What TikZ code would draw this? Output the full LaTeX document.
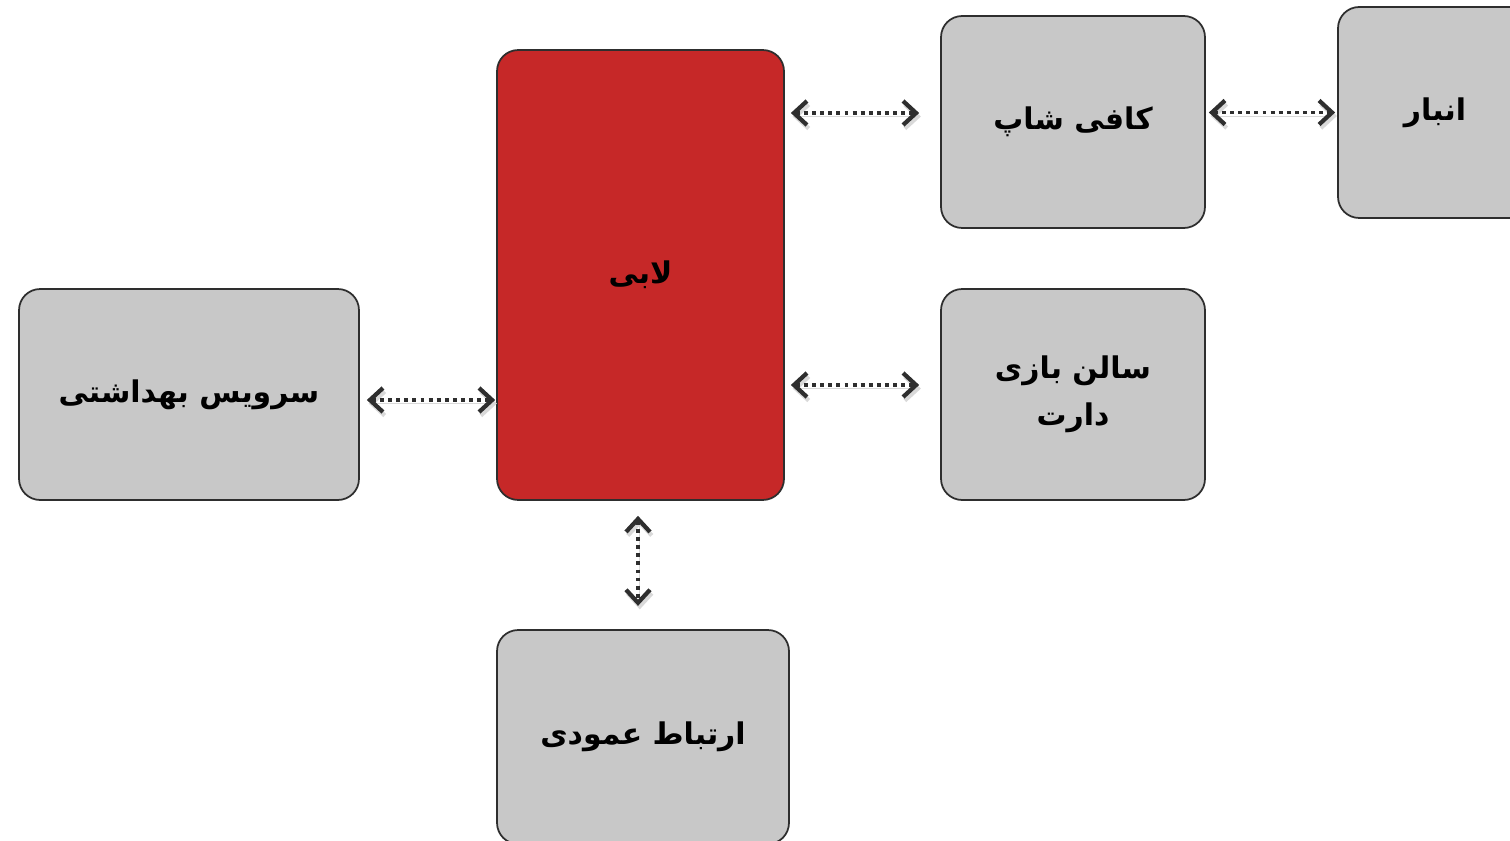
\documentclass[tikz,border=0pt]{standalone}
\usepackage{fontspec}
\TeXXeTstate=1
\newfontfamily\farsi[Script=Arabic]{DejaVu Sans}
\usetikzlibrary{arrows.meta,calc,positioning}
\definecolor{lobbyred}{HTML}{C62828}
\definecolor{roomgray}{HTML}{C8C8C8}
\definecolor{edgegray}{HTML}{2E2E2E}

\tikzset{
  room/.style={draw=edgegray,line width=1pt,rounded corners=12pt,fill=roomgray,
    align=center,font=\farsi\bfseries\fontsize{17}{27}\selectfont,inner sep=0pt},
  link/.style={edgegray,line width=2pt,dash pattern=on 2.2pt off 2.4pt,
    {Straight Barb[length=2.6mm,width=4.8mm,line width=2.4pt]}-{Straight Barb[length=2.6mm,width=4.8mm,line width=2.4pt]},
    preaction={draw=black!15,transform canvas={shift={(1pt,-2pt)}}}}
}

\begin{document}
\begin{tikzpicture}[x=0.02cm,y=-0.02cm]
  \clip (0,0) rectangle (1510,841);
  \node[room,fill=lobbyred,minimum width=5.74cm,minimum height=9cm] (lobby) at (640.5,275) {\beginR لابی\endR};
  \node[room,minimum width=5.28cm,minimum height=4.24cm] (cafe) at (1073,122) {\beginR کافی شاپ\endR};
  \node[room,minimum width=3.88cm,minimum height=4.22cm] (anbar) at (1435,112.5) {\beginR انبار\endR};
  \node[room,minimum width=5.28cm,minimum height=4.22cm] (salon) at (1073,394.5) {\beginR سالن بازی\endR\\\beginR دارت\endR};
  \node[room,minimum width=6.8cm,minimum height=4.22cm] (service) at (189,394.5) {\beginR سرویس بهداشتی\endR};
  \node[room,minimum width=5.84cm,minimum height=4.28cm] (vertical) at (643,737) {\beginR ارتباط عمودی\endR};
  % dotted two-way links
  \draw[link,shorten <=0.12cm,shorten >=0.42cm] ($(lobby.east |- cafe.west)+(0,-9)$) -- ($(cafe.west)+(0,-9)$);
  \draw[link,shorten <=0.06cm,shorten >=0.04cm] (cafe.east |- anbar.west) -- (anbar.west);
  \draw[link,shorten <=0.12cm,shorten >=0.42cm] ($(lobby.east |- salon.west)+(0,-9.5)$) -- ($(salon.west)+(0,-9.5)$);
  \draw[link,shorten <=0.14cm,shorten >=0.02cm] ($(service.east)+(0,5.5)$) -- ($(lobby.west |- service.east)+(0,5.5)$);
  \draw[link,shorten <=0.3cm,shorten >=0.5cm] ($(lobby.south)+(-2.5,0)$) -- ($(vertical.north |- lobby.south)+(-5,130)$);
\end{tikzpicture}
\end{document}
